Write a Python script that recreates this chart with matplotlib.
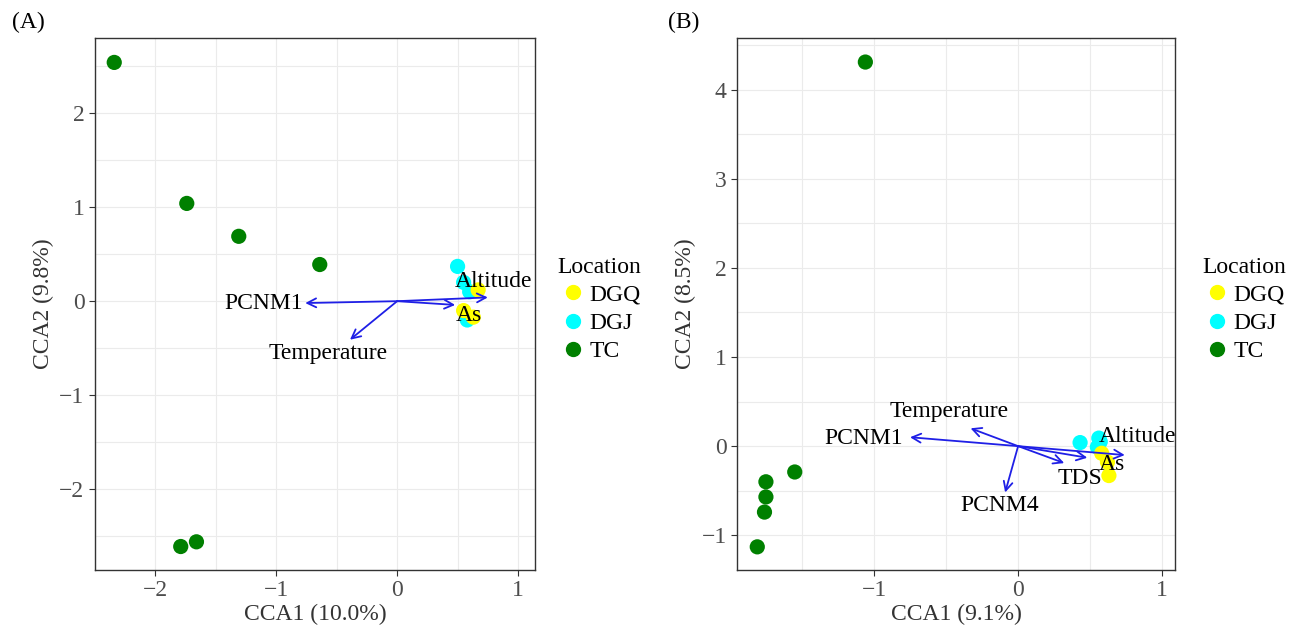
import matplotlib.pyplot as plt
from matplotlib.lines import Line2D
import numpy as np

plt.rcParams["font.family"] = ["Liberation Serif", "DejaVu Serif"]

colors = {"DGQ": "#ffff00", "DGJ": "#00ffff", "TC": "#008000"}
locations = ["DGQ", "DGJ", "TC"]

# Panel A site scores
a_tc_x = [-2.34, -1.74, -1.31, -0.64, -1.79, -1.66]
a_tc_y = [2.54, 1.04, 0.69, 0.39, -2.61, -2.56]
a_dgj_x = [0.50, 0.55, 0.60, 0.58]
a_dgj_y = [0.37, 0.20, 0.10, -0.20]
a_dgq_x = [0.67, 0.55, 0.63]
a_dgq_y = [0.12, -0.10, -0.17]
# Panel A biplot arrows
a_vars = ["PCNM1", "Temperature", "Altitude", "As"]
a_arr_x = [-0.76, -0.39, 0.75, 0.48]
a_arr_y = [-0.02, -0.41, 0.04, -0.04]
a_lab_x = [-0.78, -0.57, 0.80, 0.59]
a_lab_y = [-0.02, -0.56, 0.21, -0.15]
a_lab_ha = ["right", "center", "center", "center"]

# Panel B site scores
b_tc_x = [-1.06, -1.55, -1.75, -1.75, -1.76, -1.81]
b_tc_y = [4.31, -0.29, -0.40, -0.57, -0.74, -1.13]
b_dgj_x = [0.43, 0.56, 0.55, 0.57]
b_dgj_y = [0.04, 0.09, -0.01, 0.05]
b_dgq_x = [0.63, 0.62, 0.58]
b_dgq_y = [-0.33, -0.18, -0.08]
# Panel B biplot arrows
b_vars = ["PCNM1", "Temperature", "PCNM4", "TDS", "Altitude", "As"]
b_arr_x = [-0.75, -0.33, -0.09, 0.32, 0.74, 0.48]
b_arr_y = [0.10, 0.20, -0.52, -0.19, -0.10, -0.13]
b_lab_x = [-1.07, -0.48, -0.13, 0.43, 0.83, 0.65]
b_lab_y = [0.09, 0.39, -0.67, -0.36, 0.11, -0.21]
b_lab_ha = ["center"] * 6


def fmt(v):
    return ("\u2212" + str(-v)) if v < 0 else str(v)


def panel(ax, pts, arrx, arry, names, labx, laby, ha, xlim, ylim, xt, yt,
          xlabel, ylabel, tag, leg_x):
    ax.set_xticks(xt)
    ax.set_yticks(yt)
    ax.set_xticks(np.arange(xt[0] - 0.5, xt[-1] + 1, 0.5), minor=True)
    ax.set_yticks(np.arange(yt[0] - 0.5, yt[-1] + 1, 0.5), minor=True)
    ax.set_xticklabels([fmt(v) for v in xt])
    ax.set_yticklabels([fmt(v) for v in yt])
    ax.set_xlim(xlim)
    ax.set_ylim(ylim)
    ax.grid(True, which="both", color="#ebebeb", lw=0.8)
    ax.set_axisbelow(True)
    ax.tick_params(which="minor", length=0)
    ax.tick_params(which="major", direction="out", length=4, labelsize=17,
                   colors="#333333", labelcolor="#4d4d4d")
    for s in ax.spines.values():
        s.set_color("#333333")
        s.set_linewidth(1.0)
    for loc in ["DGQ", "DGJ", "TC"][::-1]:
        px, py = pts[loc]
        ax.scatter(px, py, s=120, color=colors[loc], edgecolors="none", zorder=3)
    for x, y in zip(arrx, arry):
        ax.annotate("", xy=(x, y), xytext=(0, 0),
                    arrowprops=dict(arrowstyle="->", color="#1f1fe6", lw=1.3,
                                    mutation_scale=16, shrinkA=0, shrinkB=0),
                    zorder=4)
    for n, x, y, h in zip(names, labx, laby, ha):
        ax.text(x, y, n, ha=h, va="center", fontsize=17, zorder=5)
    ax.set_xlabel(xlabel, fontsize=17, color="#333333", labelpad=2)
    ax.set_ylabel(ylabel, fontsize=17, color="#333333", labelpad=4)
    handles = [Line2D([], [], ls="", marker="o", ms=10, color=colors[l]) for l in locations]
    ax.legend(handles, locations, title="Location", loc="upper left",
              bbox_to_anchor=(leg_x, 0.607), frameon=False, fontsize=17,
              title_fontsize=17, handletextpad=0.1, labelspacing=0.28,
              borderaxespad=0, handlelength=1.2)
    ax.figure.text(tag[0], tag[1], tag[2], fontsize=17)


fig = plt.figure(figsize=(13, 6.33), dpi=100)
ax1 = fig.add_axes([0.073, 0.0995, 0.3385, 0.8405])
ax2 = fig.add_axes([0.567, 0.0995, 0.337, 0.8405])

panel(ax1,
      {"TC": (a_tc_x, a_tc_y), "DGJ": (a_dgj_x, a_dgj_y), "DGQ": (a_dgq_x, a_dgq_y)},
      a_arr_x, a_arr_y, a_vars, a_lab_x, a_lab_y, a_lab_ha,
      (-2.5, 1.14), (-2.86, 2.80), [-2, -1, 0, 1], [-2, -1, 0, 1, 2],
      "CCA1 (10.0%)", "CCA2 (9.8%)", (0.009, 0.955, "(A)"), 1.03)
panel(ax2,
      {"TC": (b_tc_x, b_tc_y), "DGJ": (b_dgj_x, b_dgj_y), "DGQ": (b_dgq_x, b_dgq_y)},
      b_arr_x, b_arr_y, b_vars, b_lab_x, b_lab_y, b_lab_ha,
      (-1.95, 1.09), (-1.39, 4.58), [-1, 0, 1], [-1, 0, 1, 2, 3, 4],
      "CCA1 (9.1%)", "CCA2 (8.5%)", (0.514, 0.955, "(B)"), 1.04)

fig.savefig("out.png", dpi=100)
